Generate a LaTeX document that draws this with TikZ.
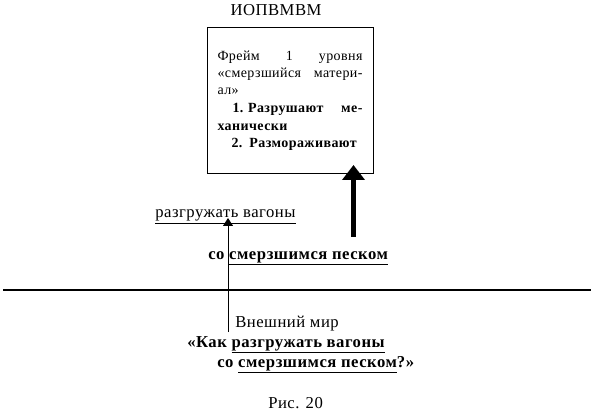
\documentclass[tikz,border=0pt]{standalone}
\usepackage{fontspec}
\setmainfont{Liberation Serif}[LetterSpace=3]
\usetikzlibrary{arrows.meta}

\begin{document}
\begin{tikzpicture}[x=0.75pt,y=-0.75pt,
    txt/.style={anchor=base west,inner sep=0pt,font=\fontsize{12.5}{14}\selectfont},
    btxt/.style={txt,font=\fontsize{12.5}{14}\selectfont\bfseries},
    bigarrow/.style={line width=3.75pt,-{Triangle[width=16.5pt,length=11.25pt]}},
    smallarrow/.style={line width=0.75pt,-{Triangle[width=7.5pt,length=6pt]}}]
  \useasboundingbox (0,0) rectangle (591,416);
  % Coordinates
  \coordinate (P) at (353.5,237);
  \coordinate (Q) at (353.5,165);
  \coordinate (S) at (228,332);
  \coordinate (T) at (228,218);
  \coordinate (L) at (3,290);
  \coordinate (R) at (591,290);

  % Frame
  \node[anchor=base,inner sep=0pt,font=\fontsize{12.5}{14}\selectfont] (title) at (276,16) {ИОПВМВМ};
  \node[draw,line width=0.75pt,minimum width=124.5pt,minimum height=109.5pt,
        text width=108.75pt,inner sep=0pt,align=left,
        font=\fontsize{10.5}{12.5}\selectfont] (frame) at (290,101)
    {Фрейм\hfill 1\hfill уровня\\
     «смерзшийся\hfill матери-\\
     ал»\\[1.5pt]
     \hspace*{11.25pt}\textbf{1.\ Разрушают\hfill ме-}\\[0.5pt]
     \textbf{ханически}\\[0.5pt]
     \hspace*{10.5pt}\textbf{2. Размораживают}};

  % Labels
  \node[txt] (goal) at (155,218) {\underline{разгружать вагоны}};
  \node[btxt] (sand) at (208,259) {со \underline{смерзшимся песком}};
  \node[txt] (world) at (235,327) {Внешний мир};
  \node[btxt] (ask1) at (187,347) {«Как \underline{разгружать вагоны}};
  \node[btxt] (ask2) at (217,367) {со \underline{смерзшимся песком}?»};
  \node[txt] (fig) at (268,408) {Рис. 20};

  % Border & arrows
  \draw[line width=2pt] (L)--(R);
  \draw[bigarrow] (P)--(Q);
  \draw[smallarrow] (S)--(T);
\end{tikzpicture}
\end{document}
